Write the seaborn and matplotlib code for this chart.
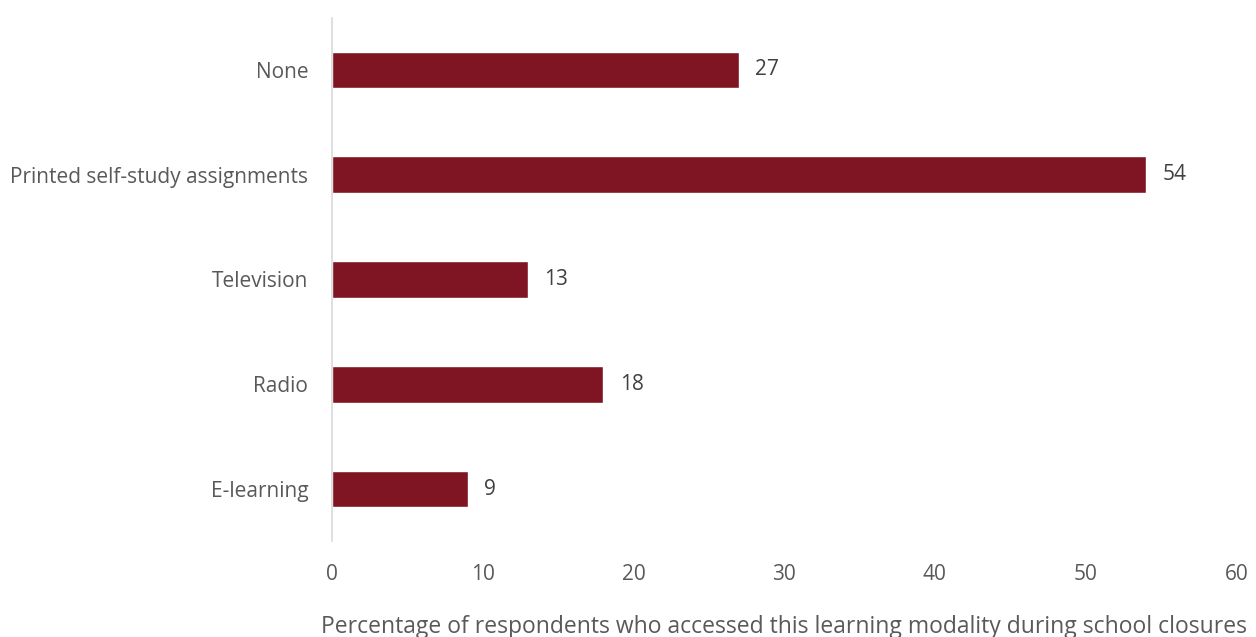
import matplotlib
matplotlib.use('Agg')
import matplotlib.pyplot as plt
import seaborn as sns
import pandas as pd

# --- Data ---
categories = ['None', 'Printed self-study assignments', 'Television', 'Radio', 'E-learning']
percentages = [27, 54, 13, 18, 9]
x_ticks = [0, 10, 20, 30, 40, 50, 60]

BAR_COLOR = '#7F1423'
TICK_COLOR = '#595959'
LABEL_COLOR = '#404040'

sns.set_theme(style='white')
plt.rcParams['font.family'] = ['Open Sans', 'DejaVu Sans']

df = pd.DataFrame({'modality': categories, 'pct': percentages})

fig = plt.figure(figsize=(12.56, 6.37), dpi=100)
ax = fig.add_axes([0.2643, 0.15, 0.7200, 0.8225])

sns.barplot(data=df, x='pct', y='modality', color=BAR_COLOR, width=0.35,
            saturation=1, ax=ax, orient='h')

# value labels to the right of each bar
for i, v in enumerate(percentages):
    ax.text(v + 1.1, i, str(v), va='center', ha='left', fontsize=15, color=LABEL_COLOR)

ax.set_xlim(0, 60)
ax.set_ylim(4.5, -0.5)
ax.set_xticks(x_ticks)
ax.tick_params(axis='x', length=0, pad=16, labelsize=15, labelcolor=TICK_COLOR)
ax.tick_params(axis='y', length=0, pad=17, labelsize=15, labelcolor=TICK_COLOR)
ax.set_ylabel('')
ax.set_xlabel('Percentage of respondents who accessed this learning modality during school closures',
              fontsize=16.5, color=TICK_COLOR)
ax.xaxis.set_label_coords(0.5, -0.163, transform=ax.transAxes)
ax.xaxis.label.set_va('center')

for side in ['top', 'right', 'bottom']:
    ax.spines[side].set_visible(False)
ax.spines['left'].set_color('#D9D9D9')
ax.spines['left'].set_linewidth(1.2)

fig.savefig('out.png', dpi=100)
